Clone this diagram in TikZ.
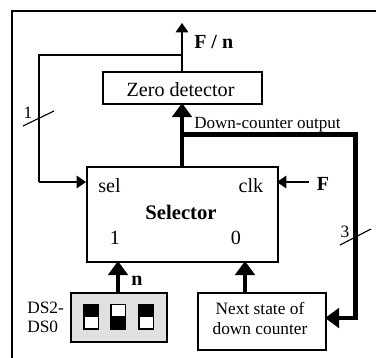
\documentclass[tikz,border=0pt]{standalone}
\usepackage{fontspec}
\setmainfont{Liberation Serif}
\usetikzlibrary{arrows.meta,calc}
\tikzset{
  box/.style={draw,line width=1.25pt,inner sep=0pt,anchor=north west},
  lbl/.style={inner sep=0pt},
  thin line/.style={line width=0.85pt},
  thinarrow/.style={line width=0.85pt,-{Triangle[length=7pt,width=9.5pt]}},
  thickarrow/.style={line width=3.2pt,-{Triangle[length=10.5pt,width=14.5pt]}},
  swbody/.style={draw,line width=1.3pt,fill=white},
  swknob/.style={fill=black}
}
\newcommand{\boxat}[6]{\node[box,minimum width=#3*0.75pt,minimum height=#4*0.75pt,#6] (#5) at (#1,#2) {};}
\begin{document}
\begin{tikzpicture}[x=0.75pt,y=-0.75pt]
\useasboundingbox (0,0) rectangle (376,358);
% frame
\coordinate (fa) at (12,358);
\coordinate (fb) at (12,11);
\coordinate (fc) at (376,11);
\draw[line width=1.7pt] (fa) -- (fb) -- (fc);
% boxes
\boxat{102}{71}{159}{32}{zero}{}
\boxat{86}{166}{191}{95}{sel}{}
\boxat{197}{292}{128}{57}{next}{}
\boxat{70}{292}{96}{49}{ds}{fill=black!12}
% texts in boxes
\node[lbl,font=\fontsize{15.1}{17}\selectfont] at (180.5,90) (zt) {Zero detector};
\node[lbl,font=\fontsize{15.1}{17}\selectfont] at (109.5,186) (s1) {sel};
\node[lbl,font=\fontsize{15.1}{17}\selectfont] at (251,186) (s2) {clk};
\node[lbl,font=\fontsize{15.5}{17}\selectfont\bfseries] at (181,212) (s3) {Selector};
\node[lbl,font=\fontsize{15.1}{17}\selectfont] at (115,238) (s4) {1};
\node[lbl,font=\fontsize{15.1}{17}\selectfont] at (236,238) (s5) {0};
\node[lbl,font=\fontsize{13}{15}\selectfont,align=center] at (260,318.5) (nt) {Next state of\\down counter};
\node[lbl,font=\fontsize{13}{14.5}\selectfont,align=left,anchor=west] at (27,317.5) (dt) {DS2-\\DS0};
\node[lbl,font=\fontsize{15}{17}\selectfont\bfseries,anchor=west] at (194,42) (fn) {F / n};
\node[lbl,font=\fontsize{12.8}{15}\selectfont,anchor=west] at (194,125) (dc) {Down-counter output};
\node[lbl,font=\fontsize{15}{17}\selectfont\bfseries] at (323,184) (ff) {F};
\node[lbl,font=\fontsize{15}{17}\selectfont\bfseries] at (137,281) (nn) {n};
\node[lbl,font=\fontsize{13}{15}\selectfont] at (28,113) (one) {1};
\node[lbl,font=\fontsize{13}{15}\selectfont] at (345,232) (three) {3};
% connectors
\coordinate (zt1) at (182,71);
\coordinate (ztop) at (182,23);
\coordinate (lj) at (182,55);
\coordinate (ll) at (39,55);
\coordinate (lb) at (39,182);
\coordinate (sl) at (86,182);
\draw[thinarrow] (zt1) -- (ztop);
\draw[thin line] (lj) -- (ll) -- (lb);
\draw[thinarrow] (lb) -- (sl);
\coordinate (st) at (182,166);
\coordinate (zb) at (182,103);
\draw[thickarrow] (st) -- (zb);
\coordinate (bj) at (182,134.5);
\coordinate (br) at (355.5,134.5);
\coordinate (bb) at (355.5,318);
\coordinate (ne) at (325,318);
\draw[thickarrow] (bj) -- (br) -- (bb) -- (ne);
\coordinate (dt1) at (118,292);
\coordinate (sb1) at (118,261);
\draw[thickarrow] (dt1) -- (sb1);
\coordinate (nt1) at (245,292);
\coordinate (sb0) at (245,261);
\draw[thickarrow] (nt1) -- (sb0);
\coordinate (fs) at (309,182);
\coordinate (fe) at (277,182);
\draw[thinarrow] (fs) -- (fe);
% ticks
\coordinate (t1a) at (23,126);
\coordinate (t1b) at (54,111);
\coordinate (t3a) at (340,245);
\coordinate (t3b) at (371,229);
\draw[thin line] (t1a) -- (t1b);
\draw[thin line] (t3a) -- (t3b);
% switches
\draw[swbody] (84,304.5) rectangle (98.5,329);
\fill[swknob] (84,304.5) rectangle (98.5,317);
\draw[swbody] (111,304.5) rectangle (125.5,329);
\fill[swknob] (111,316) rectangle (125.5,329);
\draw[swbody] (139,304.5) rectangle (153.5,329);
\fill[swknob] (139,304.5) rectangle (153.5,317);
\end{tikzpicture}
\end{document}
